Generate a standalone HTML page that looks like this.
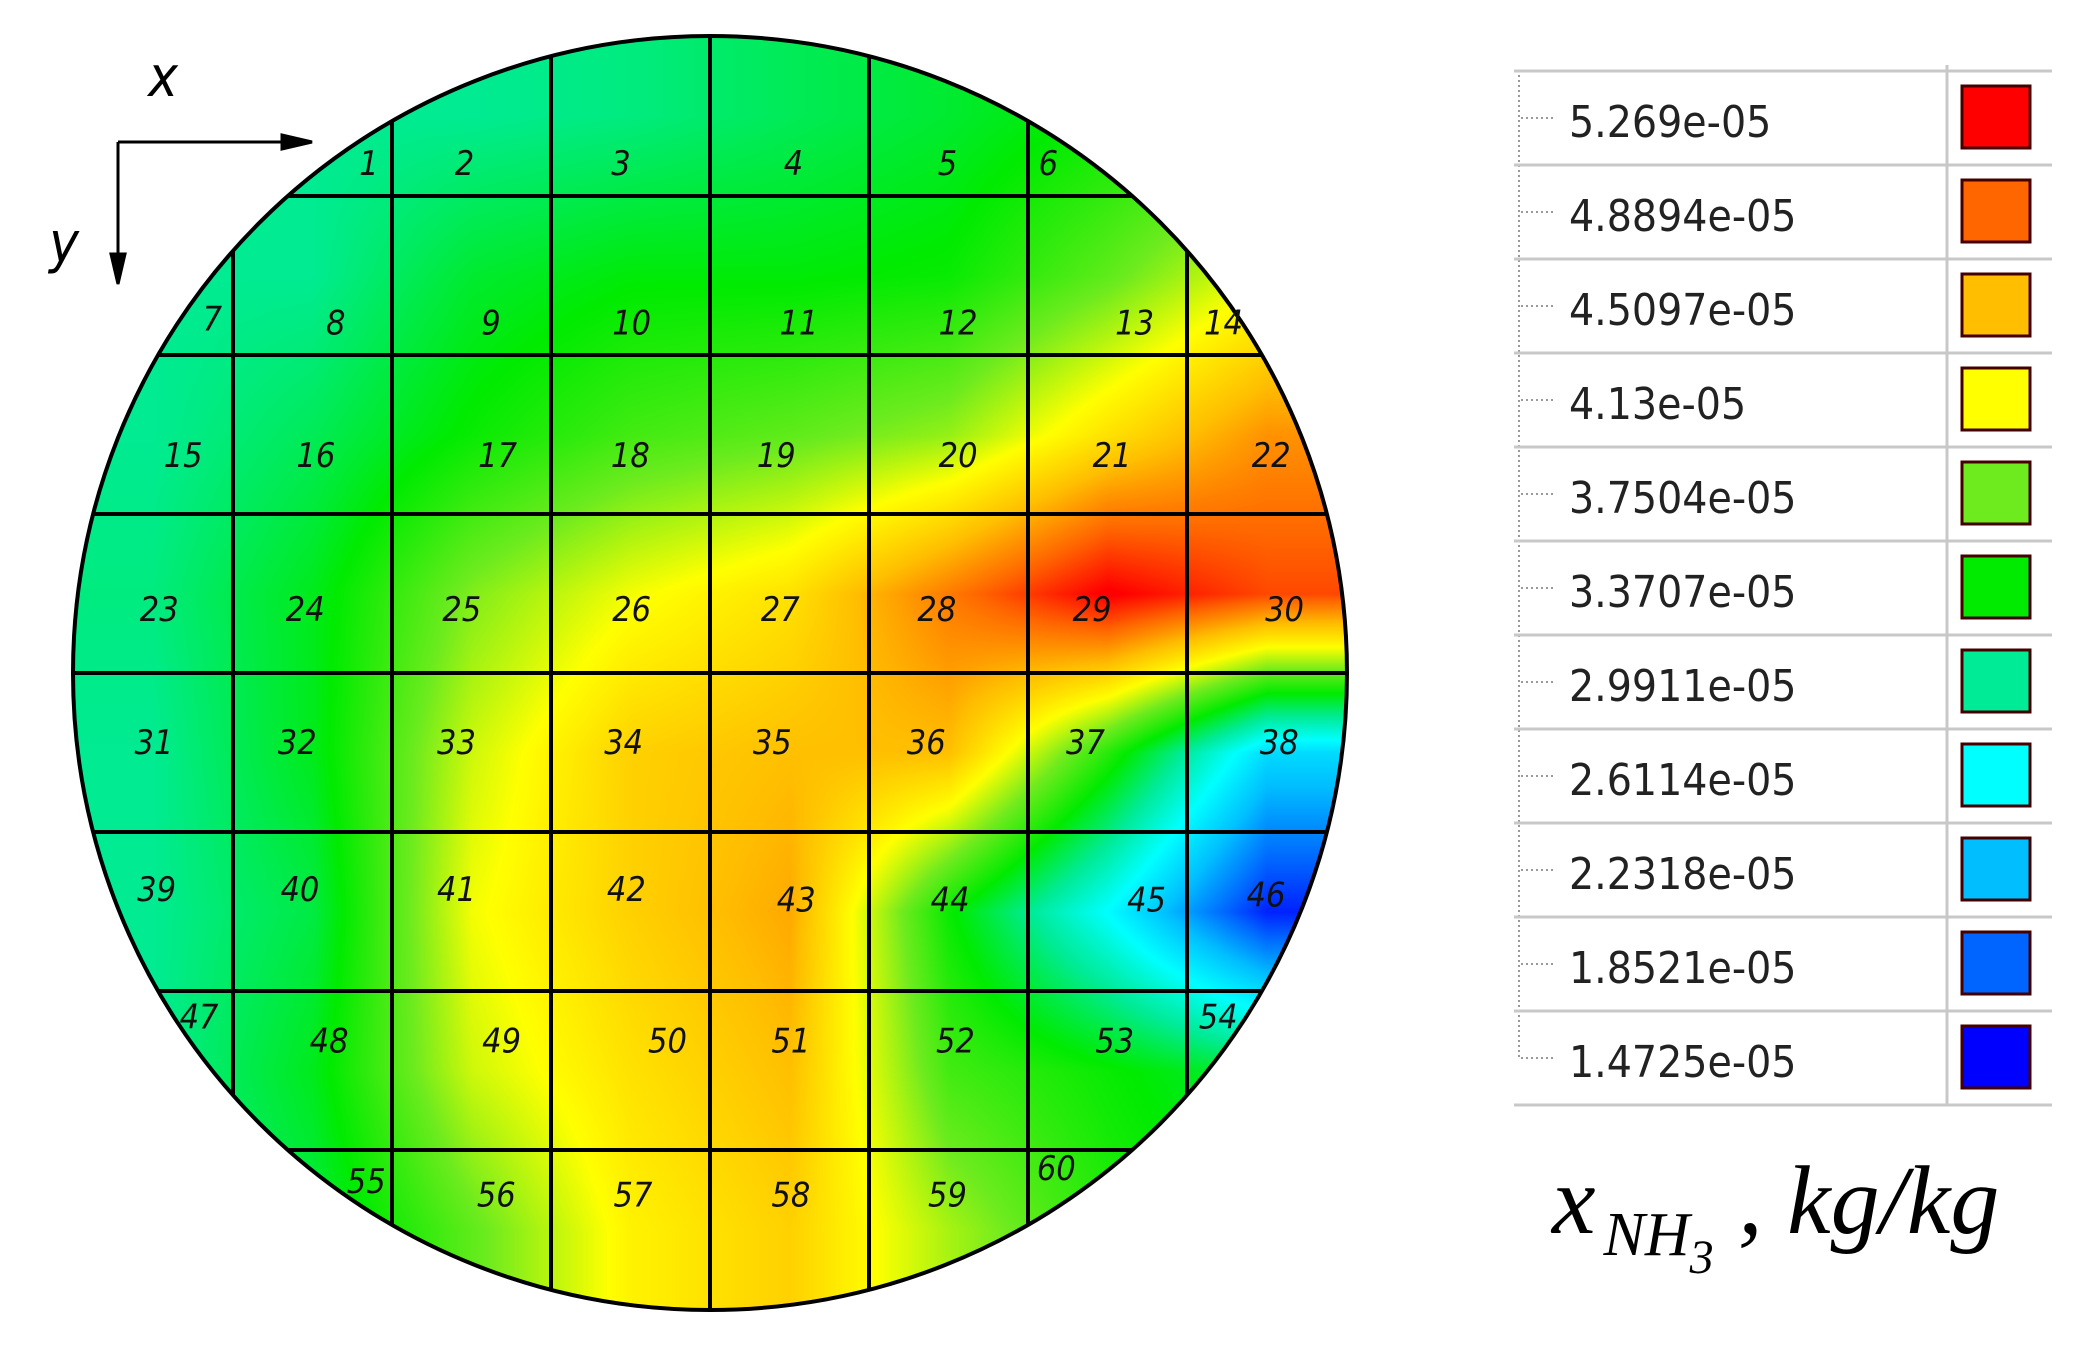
<!DOCTYPE html>
<html><head><meta charset="utf-8"><style>
html,body{margin:0;padding:0;background:#fff}
#wrap{position:relative;width:2080px;height:1350px;overflow:hidden;background:#fff}
canvas{position:absolute}
svg{position:absolute;left:0;top:0}
</style></head><body>
<div id="wrap">
<canvas id="heat"></canvas>
<svg id="ov" width="2080" height="1350"></svg>
</div>
<script>
// concentration values (x1e-05) per grid cell, rows top->bottom, cols left->right
const row0 = [3.0,3.0,3.0,3.05,3.15,3.25,3.4,3.5];
const row1 = [3.0,3.0,3.25,3.35,3.35,3.4,3.7,4.1];
const row2 = [3.0,3.15,3.4,3.6,3.7,3.85,4.3,4.7];
const row3 = [3.05,3.3,3.8,4.1,4.3,4.8,5.3,5.0];
const row4 = [3.0,3.3,4.0,4.4,4.5,4.5,3.5,2.4];
const row5 = [3.0,3.2,4.1,4.4,4.6,3.4,2.6,1.6];
const row6 = [3.0,3.3,4.0,4.3,4.5,3.6,3.4,3.2];
const row7 = [3.0,3.2,3.7,4.2,4.4,3.9,3.5,3.3];
const gridValues = [row0,row1,row2,row3,row4,row5,row6,row7];
const legendLevels = ["5.269e-05","4.8894e-05","4.5097e-05","4.13e-05","3.7504e-05","3.3707e-05","2.9911e-05","2.6114e-05","2.2318e-05","1.8521e-05","1.4725e-05"];
const levelValues = [5.269,4.8894,4.5097,4.13,3.7504,3.3707,2.9911,2.6114,2.2318,1.8521,1.4725];
const levelColors = [[255,0,0],[255,102,0],[255,190,0],[255,255,0],[110,235,30],[0,235,0],[0,235,150],[0,255,255],[0,190,255],[0,100,255],[0,0,255]];

const CX=710, CY=673, R=637, STEP=159, V0=233, H0=196;
function colorOf(v){
  for(let k=0;k<levelValues.length-1;k++){
    const a=levelValues[k],b=levelValues[k+1];
    if(v>=b){const t=Math.max(0,Math.min(1,(a-v)/(a-b)));const c1=levelColors[k],c2=levelColors[k+1];
      return [c1[0]+(c2[0]-c1[0])*t,c1[1]+(c2[1]-c1[1])*t,c1[2]+(c2[2]-c1[2])*t];}
  }
  return levelColors[levelColors.length-1];
}
const cv=document.getElementById('heat');
cv.width=2*R;cv.height=2*R;cv.style.left=(CX-R)+'px';cv.style.top=(CY-R)+'px';
const ctx=cv.getContext('2d');const img=ctx.createImageData(2*R,2*R);
for(let py=0;py<2*R;py++){for(let px=0;px<2*R;px++){
  const dx=px-R,dy=py-R;if(dx*dx+dy*dy>R*R)continue;
  const X=px+CX-R,Y=py+CY-R;
  let fi=(X-V0)/STEP+0.5, fj=(Y-H0)/STEP+0.5;
  fi=Math.max(0,Math.min(7,fi));fj=Math.max(0,Math.min(7,fj));
  const i0=Math.min(6,Math.floor(fi)),j0=Math.min(6,Math.floor(fj));
  const tx=fi-i0,ty=fj-j0;
  const v=(gridValues[j0][i0]*(1-tx)+gridValues[j0][i0+1]*tx)*(1-ty)+(gridValues[j0+1][i0]*(1-tx)+gridValues[j0+1][i0+1]*tx)*ty;
  const c=colorOf(v);const o=(py*2*R+px)*4;
  img.data[o]=c[0];img.data[o+1]=c[1];img.data[o+2]=c[2];img.data[o+3]=255;
}}
ctx.putImageData(img,0,0);

const NS='http://www.w3.org/2000/svg';const ov=document.getElementById('ov');
function mk(tag,attrs,parent){const e=document.createElementNS(NS,tag);for(const k in attrs)e.setAttribute(k,attrs[k]);(parent||ov).appendChild(e);return e;}
const defs=mk('defs',{});const cp=mk('clipPath',{id:'cc'},defs);mk('circle',{cx:CX,cy:CY,r:R},cp);
const grid=mk('g',{'clip-path':'url(#cc)',stroke:'#000','stroke-width':4});


for(let k=0;k<7;k++){
  const vl=mk('line',{x1:V0+STEP*k,y1:0,x2:V0+STEP*k,y2:1350},grid);
  
  
  const hl=mk('line',{x1:0,y1:H0+STEP*k,x2:2080,y2:H0+STEP*k},grid);
  
  
}
const circ=mk('circle',{cx:CX,cy:CY,r:R,fill:'none',stroke:'#000','stroke-width':4});



const labels=[[1,278,123],[2,350,123],[3,468,123],[4,598,123],[5,714,123],[6,790,123],
[7,160,240],[8,253,243],[9,370,243],[10,476,243],[11,602,243],[12,722,243],[13,855,243],[14,922,243],
[15,138,343],[16,238,343],[17,375,343],[18,475,343],[19,585,343],[20,722,343],[21,838,343],[22,958,343],
[23,120,459],[24,230,459],[25,348,459],[26,476,459],[27,588,459],[28,706,459],[29,823,459],[30,968,459],
[31,116,559],[32,224,559],[33,344,559],[34,470,559],[35,582,559],[36,698,559],[37,818,559],[38,964,559],
[39,118,670],[40,226,670],[41,344,670],[42,472,670],[43,600,678],[44,716,678],[45,864,678],[46,954,674],
[47,150,766],[48,248,784],[49,378,784],[50,503,784],[51,596,784],[52,720,784],[53,840,784],[54,918,766],
[55,276,890],[56,374,900],[57,477,900],[58,596,900],[59,714,900],[60,796,880]];
const S=1.327;
labels.forEach(l=>{
  const t=mk('text',{x:l[1]*S,y:l[2]*S+12,'text-anchor':'middle','font-family':'DejaVu Sans Condensed, DejaVu Sans, sans-serif','font-style':'italic','font-size':34,fill:'#111'});
  t.textContent=l[0];
  
  
});
const ax=mk('g',{stroke:'#000','stroke-width':3,fill:'#000'});


mk('line',{x1:118,y1:142,x2:300,y2:142},ax);mk('polygon',{points:'312,142 282,135 282,149'},ax);
mk('line',{x1:118,y1:142,x2:118,y2:270},ax);mk('polygon',{points:'118,284 111,254 125,254'},ax);
const xt=mk('text',{x:163,y:96,'font-family':'DejaVu Sans Condensed, sans-serif','font-style':'italic','font-size':56,fill:'#000','text-anchor':'middle'});xt.textContent='x';


const yt=mk('text',{x:64,y:262,'font-family':'DejaVu Sans Condensed, sans-serif','font-style':'italic','font-size':56,fill:'#000','text-anchor':'middle'});yt.textContent='y';



const lg=mk('g',{});


const LT=71,RH=94,LX=1514,LR=2052,DIV=1947;
mk('line',{x1:DIV,y1:LT-6,x2:DIV,y2:LT+RH*11,stroke:'#c8c8c8','stroke-width':3},lg);
mk('line',{x1:LX+5,y1:LT+4,x2:LX+5,y2:LT+RH*10+RH/2,stroke:'#999','stroke-width':2,'stroke-dasharray':'2 3'},lg);
for(let k=0;k<=11;k++) mk('line',{x1:LX,y1:LT+RH*k,x2:LR,y2:LT+RH*k,stroke:'#c8c8c8','stroke-width':3},lg);
legendLevels.forEach((s,k)=>{
  const y=LT+RH*k;
  mk('line',{x1:LX+7,y1:y+RH/2,x2:LX+42,y2:y+RH/2,stroke:'#999','stroke-width':2,'stroke-dasharray':'2 3'},lg);
  const t=mk('text',{x:1569,y:y+66,'font-family':'DejaVu Sans Condensed, DejaVu Sans, sans-serif','font-size':44,fill:'#222'},lg);
  t.textContent=s;
  
  
  const c=levelColors[k];
  const r=mk('rect',{x:1962,y:y+15,width:68,height:62,fill:'rgb('+c.join(',')+')',stroke:'#400','stroke-width':3},lg);
  
  
});
const ti=mk('text',{x:1552,y:1233,'font-family':'Liberation Serif, serif','font-style':'italic','font-size':98,fill:'#000'});


const a=mk('tspan',{},ti);a.textContent='x';
const b=mk('tspan',{'font-size':62,dy:22,dx:8},ti);b.textContent='NH';
const c3=mk('tspan',{'font-size':48,dy:18},ti);c3.textContent='3';
const d=mk('tspan',{dy:-40},ti);d.textContent=' , kg/kg';
</script>
</body></html>
